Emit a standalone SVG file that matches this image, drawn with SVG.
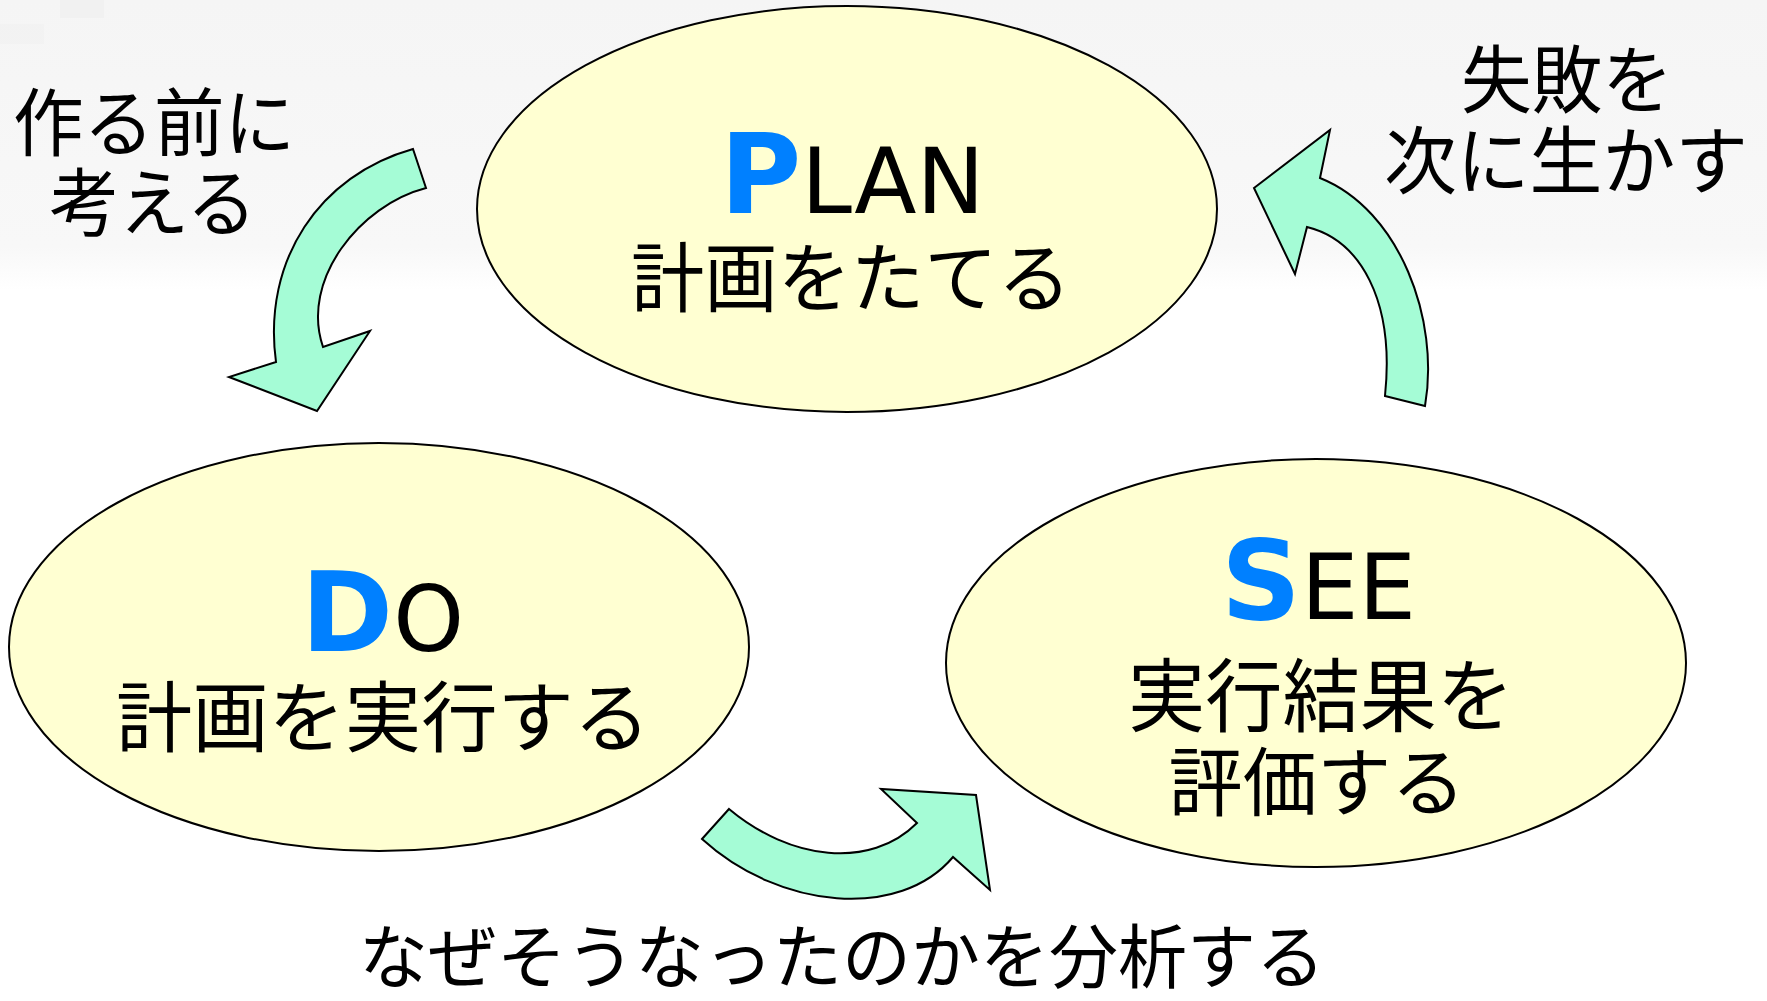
<svg xmlns="http://www.w3.org/2000/svg" width="1767" height="1001" viewBox="0 0 1767 1001">
  <defs>
    <linearGradient id="bg" x1="0" y1="0" x2="0" y2="1">
      <stop offset="0" stop-color="#f5f5f5"/>
      <stop offset="0.85" stop-color="#f8f8f8"/>
      <stop offset="1" stop-color="#ffffff"/>
    </linearGradient>
    <style>
      .node { fill: #ffffd2; stroke: #000; stroke-width: 2; }
      .arrow { fill: #a5fcd6; stroke: #000; stroke-width: 2; stroke-linejoin: miter; }
      .t { font-family: "Noto Sans CJK JP", "Liberation Sans", sans-serif; fill: #000; }
      .lat { font-family: "DejaVu Sans", "Liberation Sans", sans-serif; fill: #000; font-size: 91px; }
      .big { font-weight: bold; fill: #0080ff; font-size: 111px; }
      .jp { text-anchor: middle; }
    </style>
  </defs>

  <rect x="0" y="0" width="1767" height="1001" fill="#ffffff"/>
  <rect x="0" y="0" width="1767" height="290" fill="url(#bg)"/>
  <rect x="60" y="0" width="44" height="18" fill="#eeeeee" opacity="0.6"/>
  <rect x="0" y="24" width="44" height="20" fill="#f0f0f0" opacity="0.5"/>

  <g id="connectors">
    <path class="arrow" d="M 413,149 L 426,188 C 360,205 300,280 323,347 L 370,331 L 317,411 L 229,377 L 276,362 C 262,260 320,175 413,149 Z"/>
    <path class="arrow" d="M 702,839 L 729,809 C 790,860 870,870 917,823 L 881,789 L 976,795 L 990,890 L 953,857 C 900,920 780,910 702,839 Z"/>
    <path class="arrow" d="M 1385,396 L 1425,406 C 1440,320 1400,210 1320,178 L 1330,130 L 1254,188 L 1295,274 L 1307,227 C 1360,240 1395,300 1385,396 Z"/>
  </g>

  <g id="plan">
    <ellipse class="node" cx="847" cy="209" rx="370" ry="203"/>
    <text class="lat" x="720" y="213"><tspan class="big">P</tspan><tspan>LAN</tspan></text>
    <text class="t jp" x="851" y="306" font-size="76" textLength="440" lengthAdjust="spacingAndGlyphs">計画をたてる</text>
  </g>

  <g id="do">
    <ellipse class="node" cx="379" cy="647" rx="370" ry="204"/>
    <text class="lat" x="301" y="651"><tspan class="big" font-size="110">D</tspan><tspan font-size="90">O</tspan></text>
    <text class="t jp" x="383" y="746" font-size="77" textLength="534" lengthAdjust="spacingAndGlyphs">計画を実行する</text>
  </g>

  <g id="see">
    <ellipse class="node" cx="1316" cy="663" rx="370" ry="204"/>
    <text class="lat" x="1221" y="619"><tspan class="big" font-size="110">S</tspan><tspan>EE</tspan></text>
    <text class="t jp" font-size="78"><tspan x="1321" y="725" font-size="80" textLength="386" lengthAdjust="spacingAndGlyphs">実行結果を</tspan><tspan x="1317" y="810" font-size="75" textLength="297" lengthAdjust="spacingAndGlyphs">評価する</tspan></text>
  </g>

  <g id="labels">
    <text class="t jp" font-size="74"><tspan x="154" y="150" textLength="282" lengthAdjust="spacingAndGlyphs">作る前に</tspan><tspan x="153" y="230" textLength="207" lengthAdjust="spacingAndGlyphs">考える</tspan></text>
    <text class="t jp" font-size="74"><tspan x="1567" y="107" textLength="212" lengthAdjust="spacingAndGlyphs">失敗を</tspan><tspan x="1566" y="188" textLength="364" lengthAdjust="spacingAndGlyphs">次に生かす</tspan></text>
    <text class="t jp" x="842" y="983" font-size="70" textLength="966" lengthAdjust="spacingAndGlyphs">なぜそうなったのかを分析する</text>
  </g>
</svg>
